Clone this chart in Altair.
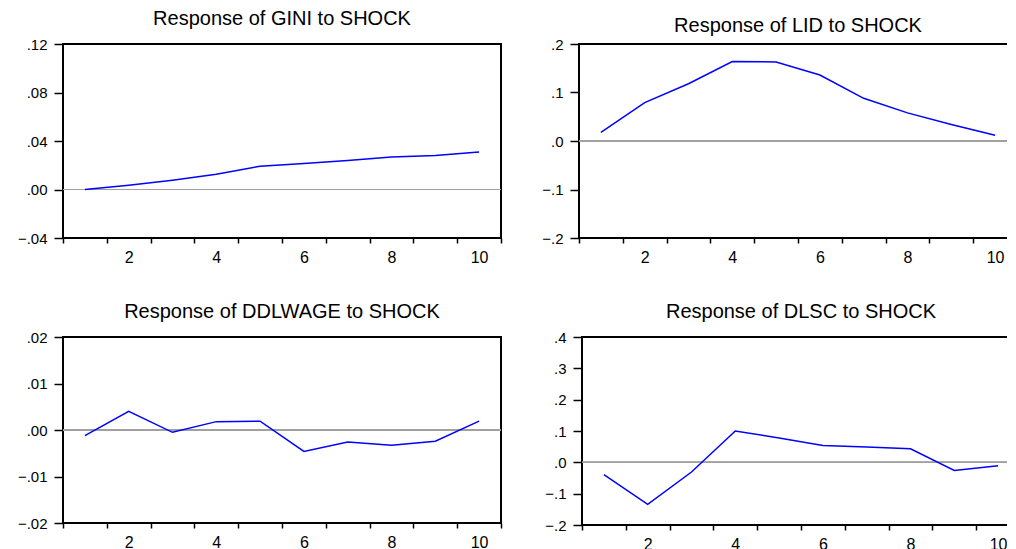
import altair as alt
import pandas as pd

periods = [1, 2, 3, 4, 5, 6, 7, 8, 9, 10]

gini = [0.000, 0.0036, 0.0077, 0.0126, 0.0192, 0.0214, 0.0240, 0.0268, 0.0280, 0.0310]
lid = [0.018, 0.079, 0.118, 0.164, 0.163, 0.136, 0.088, 0.058, 0.034, 0.012]
ddlwage = [-0.0012, 0.0040, -0.0005, 0.0018, 0.0019, -0.0046, -0.0026, -0.0033, -0.0024, 0.0019]
dlsc = [-0.039, -0.134, -0.031, 0.100, 0.078, 0.054, 0.049, 0.043, -0.026, -0.011]

titles = [
    "Response of GINI to SHOCK",
    "Response of LID to SHOCK",
    "Response of DDLWAGE to SHOCK",
    "Response of DLSC to SHOCK",
]

gini_ticks = [-0.04, 0.00, 0.04, 0.08, 0.12]
lid_ticks = [-0.2, -0.1, 0.0, 0.1, 0.2]
ddlwage_ticks = [-0.02, -0.01, 0.00, 0.01, 0.02]
dlsc_ticks = [-0.2, -0.1, 0.0, 0.1, 0.2, 0.3, 0.4]

FONT = "Liberation Sans"


def panel(values, title, ticks, fmt, w, h, yext, toff):
    df = pd.DataFrame({"t": periods, "v": values})
    base = alt.Chart(df)
    x = alt.X(
        "t:O",
        scale=alt.Scale(type="band", paddingInner=0, paddingOuter=0),
        axis=alt.Axis(
            title=None,
            tickBand="extent",
            labelAngle=0,
            labelExpr="datum.value % 2 == 0 ? datum.label : ''",
            labelOverlap=False,
            labelFontSize=16,
            tickSize=5,
            labelPadding=6,
            minExtent=27,
            maxExtent=27,
        ),
    )
    yscale = alt.Scale(domain=[ticks[0], ticks[-1]], nice=False, zero=False)
    yaxis = alt.Axis(
        title=None,
        values=ticks,
        labelExpr=f"replace(format(datum.value, '{fmt}'), '0.', '.')",
        labelOverlap=False,
        labelFontSize=15,
        tickSize=9,
        labelPadding=7,
        minExtent=yext,
        maxExtent=yext,
    )
    zero = base.mark_rule(color="#a0a0a0", strokeWidth=1).encode(
        y=alt.YDatum(0, type="quantitative", scale=yscale, axis=yaxis)
    )
    line = base.mark_line(color="#0000ff", strokeWidth=1.5).encode(
        x=x, y=alt.Y("v:Q", scale=yscale, axis=yaxis)
    )
    return alt.layer(zero, line).properties(
        width=w,
        height=h,
        title=alt.TitleParams(title, offset=toff, frame="group"),
    )


p1 = panel(gini, titles[0], gini_ticks, ".2f", 438, 194, 54, 8)
p2 = panel(lid, titles[1], lid_ticks, ".1f", 438, 194, 40, 1)
p3 = panel(ddlwage, titles[2], ddlwage_ticks, ".2f", 438, 186, 54, 8)
p4 = panel(dlsc, titles[3], dlsc_ticks, ".1f", 438, 188, 40, 8)

row1 = alt.hconcat(p1, p2, spacing=35)
row2 = alt.hconcat(p3, p4, spacing=38)

chart = (
    alt.vconcat(row1, row2, spacing=35)
    .properties(padding={"left": 0, "top": 0, "right": -15, "bottom": 0}, background="white")
    .configure_view(stroke="black", strokeWidth=2)
    .configure_axis(
        domain=False,
        grid=False,
        tickColor="black",
        tickWidth=1.5,
        labelFont=FONT,
        labelColor="black",
    )
    .configure_title(
        font=FONT,
        fontSize=20,
        fontWeight="normal",
        color="black",
        anchor="middle",
    )
)

chart.save("out.html", embed_options={"renderer": "svg", "actions": False})
